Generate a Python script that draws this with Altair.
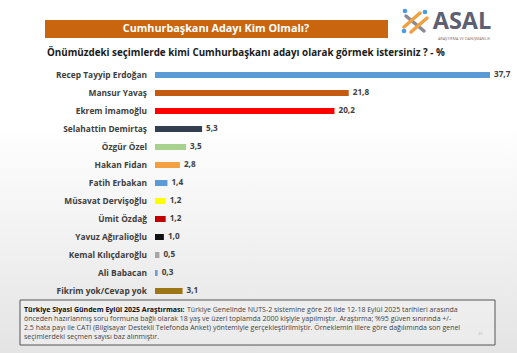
import altair as alt
import pandas as pd

# ---- data ----
candidates = [
    "Recep Tayyip Erdoğan", "Mansur Yavaş", "Ekrem İmamoğlu", "Selahattin Demirtaş",
    "Özgür Özel", "Hakan Fidan", "Fatih Erbakan", "Müsavat Dervişoğlu", "Ümit Özdağ",
    "Yavuz Ağıralioğlu", "Kemal Kılıçdaroğlu", "Ali Babacan", "Fikrim yok/Cevap yok",
]
values = [37.7, 21.8, 20.2, 5.3, 3.5, 2.8, 1.4, 1.2, 1.2, 1.0, 0.5, 0.3, 3.1]
colors = ["#5b9bd5", "#c55a11", "#ff0000", "#333f50", "#a9d18e", "#f4a041", "#5b9bd5",
          "#ffff00", "#c00000", "#111111", "#a6a6a6", "#6f9fd8", "#9c7614"]

title_text = "Cumhurbaşkanı Adayı Kim Olmalı?"
subtitle_text = "Önümüzdeki seçimlerde kimi Cumhurbaşkanı adayı olarak görmek istersiniz ? - %"
note_bold = "Türkiye Siyasi Gündem Eylül 2025 Araştırması:"
note_lines = [
    "Türkiye Genelinde  NUTS-2 sistemine göre 26 ilde 12-18 Eylül 2025 tarihleri arasında",
    "önceden hazırlanmış soru formuna bağlı olarak 18 yaş ve üzeri toplamda 2000 kişiyle yapılmıştır. Araştırma; %95 güven sınırında +/-",
    "2.5 hata payı ile CATI (Bilgisayar Destekli Telefonda  Anket) yöntemiyle gerçekleştirilmiştir. Örneklemin illere göre dağılımında son genel",
    "seçimlerdeki seçmen sayısı baz alınmıştır.",
]

df = pd.DataFrame({"name": candidates, "value": values, "color": colors})
one = pd.DataFrame({"a": [0]})

W, H = 517, 353
FONT = "Open Sans"

yenc = alt.Y("name:N", sort=candidates, axis=None,
             scale=alt.Scale(range=[66, 300], paddingInner=0, paddingOuter=0))
xscale = alt.Scale(domain=[0, 37.7], range=[155, 490])

bg = alt.Chart(one).mark_rect(
    color=alt.Gradient(gradient="linear", x1=0, x2=0, y1=0, y2=1,
                       stops=[alt.GradientStop(color="#ffffff", offset=0),
                              alt.GradientStop(color="#ffffff", offset=0.35),
                              alt.GradientStop(color="#e4e4e4", offset=1)])
).encode(x=alt.value(0), x2=alt.value(W), y=alt.value(0), y2=alt.value(H))

banner = alt.Chart(one).mark_rect(color="#c9650f").encode(
    x=alt.value(45), x2=alt.value(388), y=alt.value(20), y2=alt.value(38))


def txt(s, x, y, size, color="#000000", weight="normal", align="left",
        baseline="middle", font=FONT):
    return alt.Chart(one).mark_text(
        text=s, fontSize=size, fontWeight=weight, color=color, align=align,
        baseline=baseline, font=font
    ).encode(x=alt.value(x), y=alt.value(y))


title = txt(title_text, 216, 29, 10.8, "#ffffff", "bold", "center")
subtitle = txt(subtitle_text, 47, 53, 9.8, "#1a1a1a", "bold")

# logo
def rule(x1, y1, x2, y2, color, w):
    return alt.Chart(one).mark_rule(color=color, strokeWidth=w, strokeCap="round").encode(
        x=alt.value(x1), y=alt.value(y1), x2=alt.value(x2), y2=alt.value(y2))

logo = [
    rule(406, 16, 424, 31, "#8a8a96", 3.5),
    rule(404, 27, 420, 13, "#f0a040", 3.5),
    rule(411, 32, 427, 18, "#f0a040", 3.5),
    alt.Chart(pd.DataFrame({"px": [405, 425, 404], "py": [11, 12, 31]})).mark_circle(
        color="#4a9be0", size=22, opacity=1).encode(
        x=alt.X("px:Q", scale=None), y=alt.Y("py:Q", scale=None)),
    txt("ASAL", 462, 29, 23.5, "#5d6070", "bold", "center", "alphabetic"),
    txt("ARAŞTIRMA VE DANIŞMANLIK", 464, 38.8, 3.8, "#8a7060", "normal", "center"),
]

bars = alt.Chart(df).mark_bar(height=6).encode(
    x=alt.X("value:Q", scale=xscale, axis=None),
    x2=alt.value(155),
    y=yenc,
    color=alt.Color("color:N", scale=None),
)

names = alt.Chart(df).mark_text(
    align="right", baseline="middle", fontSize=8.4, fontWeight="bold",
    color="#404040", font=FONT
).encode(x=alt.value(147), y=yenc, text="name:N")

vals = alt.Chart(df).transform_calculate(
    lab="replace(format(datum.value, '.1f'), '.', ',')"
).mark_text(
    align="left", baseline="middle", fontSize=8.2, fontWeight="bold",
    color="#404040", dx=4, font=FONT
).encode(x=alt.X("value:Q", scale=xscale), y=yenc, text="lab:N")

box = alt.Chart(one).mark_rect(fill="#f4f4f4", fillOpacity=0.4, stroke="#555555",
                               strokeWidth=1).encode(
    x=alt.value(20), x2=alt.value(495), y=alt.value(300), y2=alt.value(345))

NS = 7.0
note_layers = [txt(note_bold, 24, 309.5, NS, "#111111", "bold")]
ys = [309.5, 318.5, 327.5, 336.5]
xs = [187, 24, 24, 24]
for s, x, y in zip(note_lines, xs, ys):
    note_layers.append(txt(s, x, y, NS, "#444444"))
note_layers.append(txt("40", 478, 334, 4, "#bbbbbb"))

chart = alt.layer(bg, banner, title, subtitle, *logo, bars, names, vals, box,
                  *note_layers).properties(
    width=W, height=H, autosize=alt.AutoSizeParams(type="none"), padding=0
).configure_view(stroke=None)

chart.save("out.html", embed_options={"renderer": "svg", "actions": False})
